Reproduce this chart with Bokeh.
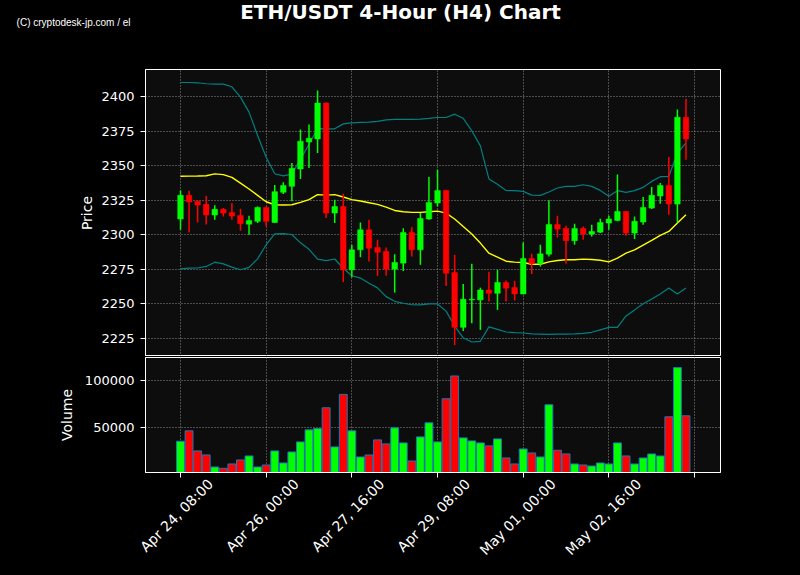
import math
from bokeh.plotting import figure
from bokeh.layouts import column
from bokeh.models import (ColumnDataSource, FixedTicker, Range1d, Label, LinearAxis,
                          NumeralTickFormatter)
from bokeh.embed import file_html
from bokeh.resources import INLINE

# ---- data ----
opens = [2311.4, 2328.5, 2324.2, 2322.0, 2314.3, 2318.4, 2316.2, 2314.0, 2307.7, 2309.7,
         2319.8, 2308.9, 2330.7, 2335.0, 2347.6, 2367.1, 2369.3, 2395.2, 2315.7, 2320.5,
         2274.6, 2289.1, 2303.6, 2290.8, 2287.9, 2275.1, 2279.5, 2301.7, 2289.1, 2311.4,
         2323.0, 2332.1, 2272.7, 2233.1, 2252.9, 2252.9, 2260.1, 2257.7, 2265.5, 2261.8,
         2257.2, 2282.9, 2279.2, 2286.0, 2307.5, 2304.6, 2295.7, 2304.6, 2300.5, 2301.9,
         2308.5, 2310.4, 2316.9, 2301.2, 2309.2, 2319.3, 2328.0, 2335.7, 2322.2, 2385.0]
closes = [2328.5, 2323.7, 2321.5, 2314.3, 2318.4, 2315.7, 2313.5, 2308.0, 2310.4, 2319.8,
          2309.7, 2331.2, 2335.7, 2348.1, 2367.6, 2369.8, 2395.2, 2315.7, 2320.5, 2274.6,
          2289.1, 2303.6, 2290.3, 2287.4, 2275.1, 2280.0, 2301.7, 2289.1, 2311.8, 2323.4,
          2332.1, 2272.2, 2233.1, 2253.4, 2253.4, 2260.1, 2257.7, 2265.5, 2261.4, 2257.2,
          2282.9, 2279.2, 2286.2, 2307.5, 2304.1, 2295.7, 2304.6, 2300.5, 2302.4, 2308.9,
          2311.4, 2316.9, 2301.2, 2309.7, 2319.8, 2328.5, 2335.7, 2322.2, 2385.0, 2369.3]
highs = [2332.1, 2331.9, 2324.6, 2328.3, 2321.3, 2319.3, 2322.9, 2318.8, 2313.8, 2320.5,
         2320.5, 2336.0, 2337.9, 2351.9, 2376.1, 2379.7, 2404.3, 2395.9, 2325.4, 2329.7,
         2292.8, 2308.9, 2310.9, 2296.4, 2290.8, 2286.0, 2304.8, 2305.6, 2315.7, 2341.8,
         2347.1, 2332.6, 2285.5, 2264.5, 2279.0, 2261.8, 2273.2, 2274.6, 2266.9, 2266.7,
         2294.4, 2286.2, 2292.8, 2324.9, 2313.8, 2306.5, 2308.0, 2306.0, 2307.2, 2311.6,
         2313.8, 2343.5, 2317.2, 2313.3, 2327.3, 2334.5, 2337.4, 2356.3, 2390.6, 2398.3]
lows = [2303.6, 2301.7, 2308.9, 2307.5, 2310.9, 2313.3, 2310.9, 2302.9, 2300.0, 2308.5,
        2306.0, 2308.5, 2329.5, 2324.2, 2340.3, 2348.3, 2359.2, 2312.1, 2308.5, 2265.7,
        2269.3, 2283.8, 2280.7, 2270.3, 2270.3, 2258.2, 2273.9, 2284.3, 2278.3, 2310.9,
        2320.5, 2263.0, 2220.3, 2230.4, 2236.0, 2231.2, 2251.7, 2245.7, 2251.7, 2252.4,
        2257.0, 2271.7, 2277.1, 2284.3, 2298.1, 2279.0, 2292.8, 2296.4, 2298.8, 2301.2,
        2303.6, 2309.7, 2299.3, 2296.9, 2307.2, 2318.6, 2322.5, 2314.5, 2308.9, 2354.3]
volumes = [35363, 46430, 25010, 20726, 7874, 6446, 11087, 15371, 19655, 7874,
           10016, 25010, 12158, 23939, 34649, 47501, 48929, 71063, 29294, 85343,
           46430, 18584, 20726, 36791, 32507, 49643, 33578, 14300, 40004, 54998,
           34649, 80702, 104978, 38933, 35720, 33578, 30365, 37862, 17513, 11087,
           27152, 22868, 18584, 74276, 25724, 21797, 11087, 10016, 8945, 12158,
           11087, 33578, 19655, 11087, 17513, 21797, 19655, 61424, 113903, 62495]
bb_mid = [2342.3, 2342.4, 2342.5, 2342.7, 2344.0, 2343.5, 2341.5, 2337.4, 2333.1, 2328.5,
          2323.9, 2321.7, 2321.5, 2321.7, 2323.4, 2325.4, 2329.0, 2328.7, 2329.0, 2327.3,
          2325.4, 2324.4, 2323.2, 2322.0, 2320.0, 2317.6, 2316.7, 2316.2, 2316.2, 2316.7,
          2317.1, 2315.7, 2311.4, 2306.0, 2300.5, 2294.0, 2286.7, 2283.8, 2280.9, 2280.2,
          2280.0, 2278.7, 2278.7, 2280.4, 2281.4, 2281.9, 2281.9, 2282.4, 2282.1, 2281.6,
          2280.4, 2283.1, 2286.7, 2289.1, 2292.5, 2295.9, 2299.5, 2302.4, 2308.5, 2314.5]
bb_upper = [2410.1, 2410.1, 2409.9, 2409.2, 2408.9, 2408.9, 2407.0, 2399.5, 2388.7, 2371.8,
            2356.1, 2344.1, 2342.6, 2343.9, 2354.5, 2365.5, 2376.8, 2376.6, 2376.6, 2380.2,
            2380.9, 2381.2, 2381.5, 2382.0, 2383.1, 2383.4, 2383.4, 2383.4, 2383.6, 2384.1,
            2384.8, 2384.8, 2387.2, 2384.2, 2375.2, 2364.3, 2340.4, 2336.5, 2332.0, 2331.9,
            2331.4, 2328.7, 2328.5, 2330.9, 2333.8, 2335.0, 2335.0, 2336.2, 2335.0, 2332.1,
            2327.8, 2331.9, 2330.7, 2331.9, 2334.3, 2338.6, 2342.0, 2342.3, 2359.0, 2366.5]
bb_lower = [2275.4, 2275.9, 2276.0, 2277.1, 2280.2, 2279.0, 2276.6, 2274.7, 2276.4, 2282.6,
            2292.8, 2300.7, 2300.9, 2300.2, 2294.2, 2289.5, 2282.4, 2281.3, 2282.5, 2275.8,
            2270.4, 2268.7, 2265.0, 2261.6, 2255.3, 2251.9, 2250.5, 2249.4, 2249.3, 2250.1,
            2250.0, 2244.8, 2234.0, 2225.5, 2222.5, 2223.0, 2233.4, 2231.6, 2229.7, 2229.3,
            2229.0, 2228.3, 2228.2, 2228.0, 2228.2, 2228.2, 2228.4, 2228.7, 2229.5, 2231.2,
            2233.1, 2233.1, 2241.3, 2245.7, 2250.2, 2253.6, 2257.2, 2261.6, 2257.2, 2261.6]
x_tick_positions = [0, 10, 20, 30, 40, 50, 60]
x_tick_labels = ["Apr 24, 08:00", "Apr 26, 00:00", "Apr 27, 16:00", "Apr 29, 08:00",
                 "May 01, 00:00", "May 02, 16:00", ""]
price_ticks = [2225, 2250, 2275, 2300, 2325, 2350, 2375, 2400]
volume_ticks = [50000, 100000]
title_text = "ETH/USDT 4-Hour (H4) Chart"
credit_text = "(C) cryptodesk-jp.com / el"

GREEN = "#00ff00"
RED = "#ff0000"
BG = "#0d0d0d"
GRID = "#9a9a9a"
FONT = "DejaVu Sans"

n = len(opens)
idx = list(range(n))
colors = [GREEN if c >= o else RED for o, c in zip(opens, closes)]
src = ColumnDataSource(dict(
    x=idx, open=opens, close=closes, high=highs, low=lows, vol=volumes,
    top=[max(o, c) for o, c in zip(opens, closes)],
    bottom=[min(o, c) for o, c in zip(opens, closes)],
    color=colors, mid=bb_mid, up=bb_upper, lo=bb_lower,
))

X0, X1 = -4.085, 63.03
x_range = Range1d(X0, X1)
px_per_x = 575.0 / (X1 - X0)

def style(fig):
    fig.background_fill_color = BG
    fig.border_fill_color = "black"
    fig.outline_line_color = "white"
    fig.outline_line_width = 1
    fig.xgrid.ticker = FixedTicker(ticks=x_tick_positions)
    for g in (fig.xgrid, fig.ygrid):
        g.grid_line_color = GRID
        g.grid_line_dash = "1 2"
        g.grid_line_width = 1
        g.grid_line_alpha = 0.9
    for ax in fig.yaxis:
        ax.axis_line_color = "white"
        ax.major_tick_line_color = "white"
        ax.minor_tick_line_color = None
        ax.major_tick_out = 5
        ax.major_tick_in = 0
        ax.major_label_standoff = 6
        ax.major_label_text_color = "white"
        ax.major_label_text_font = FONT
        ax.major_label_text_font_size = "13px"
        ax.axis_label_text_color = "white"
        ax.axis_label_text_font = FONT
        ax.axis_label_text_font_size = "14px"
        ax.axis_label_text_font_style = "normal"

# ---- header strip (page rows 0..68): frame spans page x 145..720 ----
HEAD_H = 68
h = figure(width=800, height=HEAD_H, x_range=Range1d(145, 720), y_range=Range1d(0, HEAD_H),
           output_backend="svg", toolbar_location=None, x_axis_location=None,
           min_border_left=145, min_border_right=80, min_border_top=0, min_border_bottom=0)
h.background_fill_color = "black"
h.border_fill_color = "black"
h.outline_line_color = None
h.xgrid.visible = False
h.ygrid.visible = False
h.add_layout(Label(x=400, y=HEAD_H - 11, text=title_text, text_align="center",
                   text_baseline="middle", text_color="white", text_font=FONT,
                   text_font_size="20px", text_font_style="bold"))
# credit line, shown left of the header frame as the header's only y-axis label
credit_y = HEAD_H - 21.5
h.yaxis.ticker = FixedTicker(ticks=[credit_y])
h.yaxis.major_label_overrides = {credit_y: credit_text}
h.yaxis.axis_line_color = None
h.yaxis.major_tick_line_color = None
h.yaxis.minor_tick_line_color = None
h.yaxis.major_tick_out = 0
h.yaxis.major_tick_in = 0
h.yaxis.major_label_standoff = 15
h.yaxis.major_label_text_color = "white"
h.yaxis.major_label_text_font = "Liberation Sans"
h.yaxis.major_label_text_font_size = "10px"

# ---- price panel (frame 145..720 x 69..356) ----
p = figure(width=800, height=288, x_range=x_range, y_range=Range1d(2212, 2419.5),
           output_backend="svg", toolbar_location=None, x_axis_location=None,
           min_border_left=145, min_border_right=80, min_border_top=1, min_border_bottom=0)
style(p)
p.yaxis.ticker = FixedTicker(ticks=price_ticks)
p.yaxis.axis_label = "Price"
p.yaxis.axis_label_standoff = 3

p.line("x", "up", source=src, color="#008080", line_width=1.2)
p.line("x", "lo", source=src, color="#008080", line_width=1.2)
p.line("x", "mid", source=src, color="#ffff00", line_width=1.4)
p.segment(x0="x", y0="low", x1="x", y1="high", source=src, color="color", line_width=1.5)
p.vbar(x="x", top="top", bottom="bottom", width=0.65, source=src,
       fill_color="color", line_color="color", line_width=0.5)

# ---- volume panel (frame 145..720 x 357..472) ----
v = figure(width=800, height=219, x_range=x_range, y_range=Range1d(2000, 124700),
           output_backend="svg", toolbar_location=None,
           min_border_left=145, min_border_right=80, min_border_top=1, min_border_bottom=103)
style(v)
v.yaxis.ticker = FixedTicker(ticks=volume_ticks)
v.yaxis.formatter = NumeralTickFormatter(format="0")
v.yaxis.axis_label = "Volume"
v.yaxis.axis_label_standoff = 7

# tick marks at the date positions (no text on this axis)
v.xaxis.ticker = FixedTicker(ticks=x_tick_positions)
v.xaxis.major_label_overrides = {t: "" for t in x_tick_positions}
v.xaxis.major_label_text_font_size = "1px"
v.xaxis.major_label_standoff = 0
v.xaxis.axis_line_color = "white"
v.xaxis.major_tick_line_color = "white"
v.xaxis.minor_tick_line_color = None
v.xaxis.major_tick_out = 5
v.xaxis.major_tick_in = 0

# date labels, rotated 45 degrees and centred on their ticks
shift = 30.0 / px_per_x
lab_pos = [t + shift for t, l in zip(x_tick_positions, x_tick_labels) if l]
lab_txt = [l for l in x_tick_labels if l]
date_axis = LinearAxis(ticker=FixedTicker(ticks=lab_pos),
                       major_label_overrides={pos: l for pos, l in zip(lab_pos, lab_txt)},
                       major_label_orientation=math.pi / 4,
                       major_label_standoff=4,
                       major_label_text_color="white", major_label_text_font=FONT,
                       major_label_text_font_size="14px",
                       axis_line_color=None, major_tick_line_color=None,
                       minor_tick_line_color=None, major_tick_out=0, major_tick_in=0)
v.add_layout(date_axis, "below")

v.vbar(x="x", top="vol", bottom=0, width=0.92, source=src,
       fill_color="color", line_color="#1f77b4", line_width=1)

layout = column(h, p, v, spacing=0, styles={"background-color": "black"})

html = file_html(layout, INLINE)
html = html.replace("</head>", "<style>html, body { background: #000000; }</style></head>", 1)
open("out.html", "w").write(html)
